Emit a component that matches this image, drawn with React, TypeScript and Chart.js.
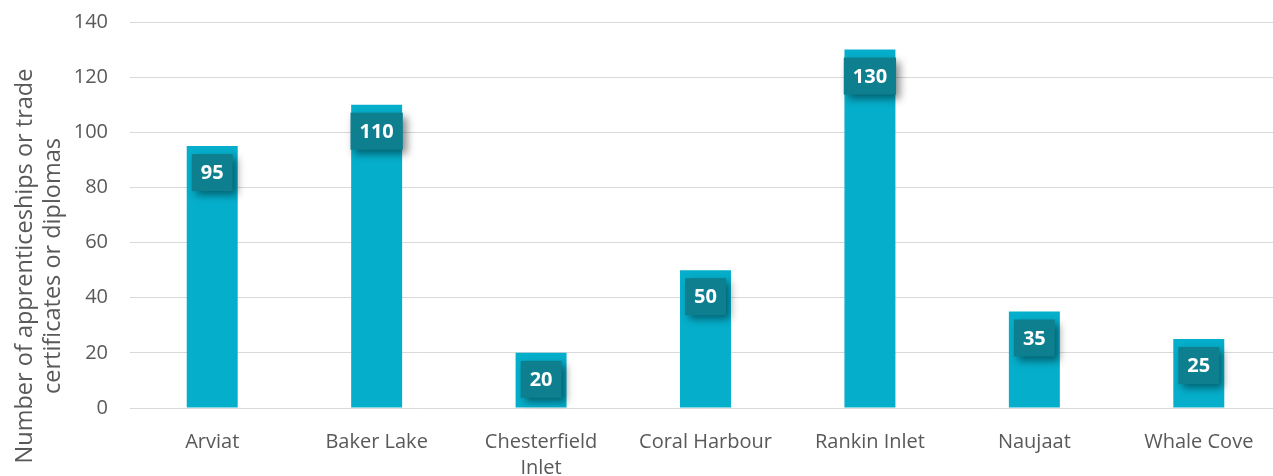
import React, { useEffect, useRef } from "react";
import { Chart, registerables } from "chart.js";

Chart.register(...registerables);

const categories: (string | string[])[] = [
  "Arviat",
  "Baker Lake",
  ["Chesterfield", "Inlet"],
  "Coral Harbour",
  "Rankin Inlet",
  "Naujaat",
  "Whale Cove",
];
const values: number[] = [95, 110, 20, 50, 130, 35, 25];
const yTitleLines: string[] = ["Number of apprenticeships or trade", "certificates or diplomas"];

const FONT = "'Open Sans', 'DejaVu Sans', sans-serif";

const labelPlugin = {
  id: "boxLabels",
  afterDatasetsDraw(chart: any) {
    const ctx = chart.ctx;
    const meta = chart.getDatasetMeta(0);
    ctx.save();
    ctx.font = `bold 20px ${FONT}`;
    meta.data.forEach((bar: any, i: number) => {
      const text = String(values[i]);
      const tw = ctx.measureText(text).width;
      const w = tw + 18;
      const h = 37;
      const x = bar.x - w / 2;
      const y = bar.y + 8;
      ctx.save();
      ctx.shadowColor = "rgba(0,0,0,0.45)";
      ctx.shadowBlur = 8;
      ctx.shadowOffsetX = 4;
      ctx.shadowOffsetY = 4;
      ctx.fillStyle = "#0E7F8E";
      ctx.fillRect(x, y, w, h);
      ctx.restore();
      ctx.fillStyle = "#ffffff";
      ctx.textAlign = "center";
      ctx.textBaseline = "middle";
      ctx.fillText(text, bar.x, y + h / 2 + 1);
    });
    ctx.restore();
  },
};

const titlePlugin = {
  id: "yTitle",
  afterDraw(chart: any) {
    const ctx = chart.ctx;
    ctx.save();
    ctx.font = `23.5px ${FONT}`;
    ctx.fillStyle = "#595959";
    ctx.textAlign = "center";
    ctx.textBaseline = "middle";
    const xs = [25, 53];
    yTitleLines.forEach((line, i) => {
      ctx.save();
      ctx.translate(xs[i], 266);
      ctx.rotate(-Math.PI / 2);
      ctx.fillText(line, 0, 0);
      ctx.restore();
    });
    ctx.restore();
  },
};

export default function App() {
  const ref = useRef<HTMLCanvasElement | null>(null);
  useEffect(() => {
    if (!ref.current) return;
    const chart = new Chart(ref.current, {
      type: "bar",
      data: {
        labels: categories,
        datasets: [
          {
            data: values,
            backgroundColor: "#05AFCB",
            borderWidth: 0,
            barPercentage: 0.31,
            categoryPercentage: 1,
          },
        ],
      },
      options: {
        animation: false,
        responsive: false,
        devicePixelRatio: 1,
        layout: { padding: { top: 22, right: 0, bottom: 0, left: 0 } },
        plugins: {
          legend: { display: false },
          tooltip: { enabled: false },
        },
        scales: {
          x: {
            grid: { display: false },
            border: { display: false },
            ticks: {
              color: "#595959",
              font: { family: FONT, size: 20, lineHeight: 1.3 },
              padding: 13,
              maxRotation: 0,
              autoSkip: false,
            },
            afterFit(scale: any) {
              scale.height = 68;
              scale.paddingLeft = 0;
              scale.paddingRight = 0;
            },
          },
          y: {
            min: 0,
            max: 140,
            grid: { color: "#d9d9d9", lineWidth: 1, drawTicks: false },
            border: { display: false },
            ticks: {
              stepSize: 20,
              color: "#595959",
              font: { family: FONT, size: 20 },
              padding: 22,
            },
            afterFit(scale: any) {
              scale.width = 130;
              scale.paddingTop = 0;
              scale.paddingBottom = 0;
            },
          },
        },
      },
      plugins: [labelPlugin, titlePlugin],
    });
    return () => chart.destroy();
  }, []);
  return (
    <div
      style={{
        position: "absolute",
        left: 0,
        top: 0,
        width: 1273,
        height: 476,
        overflow: "hidden",
        background: "#fff",
      }}
    >
      <canvas ref={ref} width={1281} height={476} style={{ width: 1281, height: 476, display: "block" }} />
    </div>
  );
}
